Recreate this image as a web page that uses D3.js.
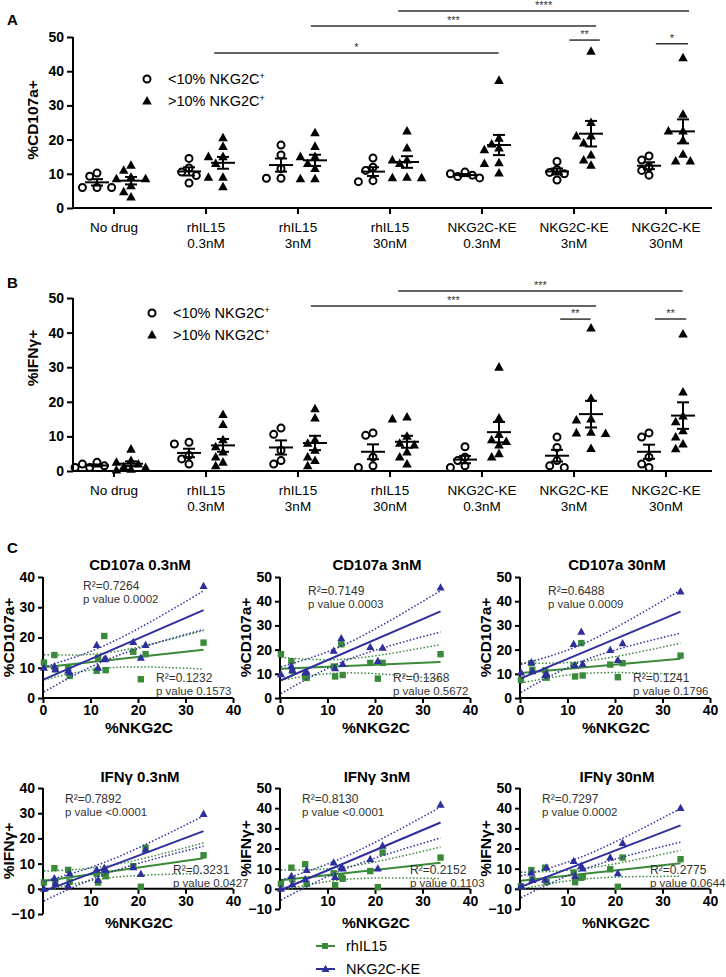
<!DOCTYPE html>
<html><head><meta charset="utf-8">
<script src="https://cdn.jsdelivr.net/npm/d3@7/dist/d3.min.js"></script>
<style>body{margin:0;background:#fff}svg{font-family:"Liberation Sans",Arial,sans-serif}</style>
</head><body>
<svg id="c" width="726" height="977"></svg>
<script>
// ---------- Data: panels A & B ----------
const catLine1 = ["No drug","rhIL15","rhIL15","rhIL15","NKG2C-KE","NKG2C-KE","NKG2C-KE"];
const catLine2 = ["","0.3nM","3nM","30nM","0.3nM","3nM","30nM"];
const yTicksAB = [0,10,20,30,40,50];
const cd107aLow = [
 [10.2,9.3,6.0,6.0,6.0],[14.5,11.7,10.5,9.5,7.3],[18.4,15.5,11.5,8.7,8.7],
 [14.6,11.9,11,8,7.7],[10.5,10,9.6,9.2,8.8],[13.6,11.2,10.4,10,8.2],[15.2,14,12,11,9.6]];
const cd107aHigh = [
 [12.5,11,9,8.5,8.5,6.5,4.7,3.2],[20.5,18,15,15,13,9,9,6.2],[22,18,15,15,13,11.5,8.5,8.5],
 [22.5,17.5,14,14,13,9,8.8,8.8],[37.3,20.4,18.7,17.5,17,13.2,13,10.2],
 [45.8,25,21,21,19,15.5,14,12.5],[43.9,27.4,22.5,22.5,19.8,15.7,13.7,13.7]];
const ifngLow = [
 [2.5,2,1.5,1,1],[8.3,7.8,4.5,3.5,2],[12.4,10.6,6,3,2],[11,10.3,4,1.5,1],
 [7,4,3,1.5,1],[9.8,6.8,3,1.5,1],[11,9.8,4,2,1]];
const ifngHigh = [
 [6.3,3,2.5,2,1.2,1,0.5,0.3],[16.3,13.4,9,7,5.5,4,2.5,1.5],[18,15.3,9,8,6,4,3,1.5],
 [15.6,15,10,8,7.5,5.5,4,2],[30,15.3,10.5,9,8.5,7.5,5,4],
 [41.3,21,15,14.7,11.2,11,10.8,6.5],[39.6,22.8,15.9,14.2,11.6,9.8,7.8,6.4]];
// significance bars: category-index span and height in data units
const sigA = [
 {from:3.09,to:6.25,level:57.6,label:"****"},{from:2.14,to:5.24,level:53.2,label:"***"},
 {from:1.09,to:4.18,level:45.3,label:"*"},{from:4.95,to:5.28,level:49.1,label:"**"},
 {from:5.89,to:6.24,level:48.0,label:"*"}];
const sigB = [
 {from:3.09,to:6.18,level:52.0,label:"***"},{from:2.14,to:5.24,level:47.7,label:"***"},
 {from:4.85,to:5.18,level:43.9,label:"**"},{from:5.88,to:6.22,level:43.9,label:"**"}];
const legendAB = ["<10% NKG2C","\u003e10% NKG2C"];

// ---------- Data: panel C ----------
const nkg2c = [0.2,2.4,2.6,5.3,5.6,11.3,11.6,12.9,13.2,19,20.6,21.6,33.8];
const cd107a03_rh = [11.7,14.2,9.5,10,7.3,9,13.3,20.5,9.2,15.3,6.2,14.5,18.3];
const cd107a03_ke = [10,10.5,9.5,9,8.5,17.5,10,12.8,13,18.5,13.3,17.5,37];
const cd107a3_rh  = [18.1,15.2,11.2,8.8,8.3,13,8.9,22.2,9.5,14.5,8,14.5,18.1];
const cd107a3_ke  = [9.8,13.2,11.5,10.5,10.8,19.5,12.3,24.7,14,21,15.3,20.7,45.6];
const cd107a30_rh = [7.5,14.4,11.6,11.4,8.4,13.4,8.9,22.7,9.3,13.8,8.6,14.4,17.5];
const cd107a30_ke = [10.5,14.7,11,9.5,10,22.3,13.5,27.3,14,19.8,15.7,22.6,44];
const ifng03_rh = [2.5,8.2,2.5,7.5,2.8,6,2.5,6,5,9,0.8,16.3,13.3];
const ifng03_ke = [0,4.2,2,1.2,6,7.5,3.5,8.2,7.5,8.5,5.8,15.5,29.7];
const ifng3_rh  = [2.5,10.5,4.7,12.2,2.5,7.7,1.8,6,5,8.8,0.8,18,15.5];
const ifng3_ke  = [0,6.3,2.2,4.7,9.3,13,5.8,10.5,10,14.7,10,21.3,41.7];
const ifng30_rh = [1.3,9.3,4.7,10.5,3.3,8,3.3,5.5,6,9.7,1,15.5,14.7];
const ifng30_ke = [1.3,8,4.3,4.5,10.5,13.8,6.3,11.3,10,15.5,7.7,22.7,40];
const subTitles = ["CD107a 0.3nM","CD107a 3nM","CD107a 30nM","IFN\u03b3 0.3nM","IFN\u03b3 3nM","IFN\u03b3 30nM"];
const subYTitles = ["%CD107a+","%CD107a+","%CD107a+","%IFN\u03b3+","%IFN\u03b3+","%IFN\u03b3+"];
const keStats = [["R\u00b2=0.7264","p value 0.0002"],["R\u00b2=0.7149","p value 0.0003"],["R\u00b2=0.6488","p value 0.0009"],
 ["R\u00b2=0.7892","p value <0.0001"],["R\u00b2=0.8130","p value <0.0001"],["R\u00b2=0.7297","p value 0.0002"]];
const rhStats = [["R\u00b2=0.1232","p value 0.1573"],["R\u00b2=0.1368","p value 0.5672"],["R\u00b2=0.1241","p value 0.1796"],
 ["R\u00b2=0.3231","p value 0.0427"],["R\u00b2=0.2152","p value 0.1103"],["R\u00b2=0.2775","p value 0.0644"]];
const subYMin = [0,0,0,-10,-10,-10];
const subYMax = [40,50,50,40,50,50];
const seriesNames = ["rhIL15","NKG2C-KE"];

const GREEN = "#3a8a3a", BLUE = "#2e2e9c";
const svg = d3.select("#c");

// ---------- helpers ----------
function triPath(s){ return `M0,${-s*0.62}L${s*0.58},${s*0.42}L${-s*0.58},${s*0.42}Z`; }
function mean(a){ return d3.mean(a); }
function sem(a){ return d3.deviation(a)/Math.sqrt(a.length); }
function swarm(values, cx, y, d){
  const placed=[]; const out=new Array(values.length);
  const order=values.map((v,i)=>({v,i})).sort((a,b)=>b.v-a.v);
  const cands=[0,-d,d,-2*d,2*d,-3*d,3*d];
  for(const p of order){
    const py=y(p.v);
    for(const c of cands){
      const px=cx+c;
      if(placed.every(q=>Math.hypot(q[0]-px,q[1]-py)>=7.6)){ placed.push([px,py]); out[p.i]=[px,py]; break; }
    }
    if(!out[p.i]){ out[p.i]=[cx,py]; placed.push([cx,py]); }
  }
  return out;
}

// ---------- panels A & B ----------
function dotPanel(cfg){
  const g=svg.append("g");
  const x=d3.scalePoint().domain(d3.range(7)).range([114,666]);
  const xf=i=>114+i*92;
  const y=d3.scaleLinear().domain([0,50]).range([cfg.y0,cfg.y50]);
  const ya=g.append("g").attr("transform","translate(73,0)").call(d3.axisLeft(y).tickValues(yTicksAB).tickSize(6).tickPadding(3));
  ya.select(".domain").attr("stroke-width",2).attr("d",`M0,${cfg.y0}V${cfg.y50}`);
  ya.selectAll(".tick line").attr("stroke-width",2);
  ya.selectAll("text").attr("font-size",14).attr("font-weight","bold").attr("fill","#000").attr("font-family","Liberation Sans, Arial");
  g.append("line").attr("x1",72).attr("x2",712).attr("y1",cfg.y0).attr("y2",cfg.y0).attr("stroke","#000").attr("stroke-width",2);
  d3.range(7).forEach(i=>{
    g.append("line").attr("x1",x(i)).attr("x2",x(i)).attr("y1",cfg.y0).attr("y2",cfg.y0+6).attr("stroke","#000").attr("stroke-width",2);
    g.append("text").attr("x",x(i)).attr("y",cfg.y0+24).attr("text-anchor","middle").attr("font-size",13.5).text(catLine1[i]);
    if(catLine2[i]) g.append("text").attr("x",x(i)).attr("y",cfg.y0+40).attr("text-anchor","middle").attr("font-size",13.5).text(catLine2[i]);
  });
  g.append("text").attr("transform",`translate(${cfg.ytx},${cfg.yty}) rotate(-90)`).attr("text-anchor","middle")
   .attr("font-size",15.5).attr("font-weight","bold").text(cfg.ytitle);
  g.append("text").attr("x",7).attr("y",cfg.letterY).attr("font-size",15).attr("font-weight","bold").text(cfg.letter);
  [cfg.low,cfg.high].forEach((data,si)=>{
    data.forEach((vals,i)=>{
      const cx=x(i)+(si===0?-17:17);
      const pts=swarm(vals,cx,y,7.3);
      pts.forEach(p=>{
        if(si===0) g.append("circle").attr("cx",p[0]).attr("cy",p[1]).attr("r",3.5).attr("fill","none").attr("stroke","#000").attr("stroke-width",2);
        else g.append("path").attr("d",triPath(8.2)).attr("transform",`translate(${p[0]},${p[1]})`).attr("fill","#000");
      });
      const m=mean(vals), s=sem(vals);
      g.append("line").attr("x1",cx-12).attr("x2",cx+12).attr("y1",y(m)).attr("y2",y(m)).attr("stroke","#000").attr("stroke-width",2);
      g.append("line").attr("x1",cx).attr("x2",cx).attr("y1",y(m-s)).attr("y2",y(m+s)).attr("stroke","#000").attr("stroke-width",2);
      [m-s,m+s].forEach(v=>g.append("line").attr("x1",cx-6).attr("x2",cx+6).attr("y1",y(v)).attr("y2",y(v)).attr("stroke","#000").attr("stroke-width",2));
    });
  });
  cfg.sig.forEach(s=>{
    g.append("line").attr("x1",xf(s.from)).attr("x2",xf(s.to)).attr("y1",y(s.level)).attr("y2",y(s.level)).attr("stroke","#333").attr("stroke-width",1.5);
    g.append("text").attr("x",(xf(s.from)+xf(s.to))/2).attr("y",y(s.level)-2).attr("text-anchor","middle").attr("font-size",11).attr("fill","#333").text(s.label);
  });
  const lx=cfg.legX, ly=cfg.legY;
  g.append("circle").attr("cx",lx).attr("cy",ly).attr("r",3.5).attr("fill","none").attr("stroke","#000").attr("stroke-width",2);
  g.append("path").attr("d",triPath(8.2)).attr("transform",`translate(${lx},${ly+22})`).attr("fill","#000");
  legendAB.forEach((t,k)=>{
    const tx=g.append("text").attr("x",lx+21).attr("y",ly+5+22*k).attr("font-size",14.5).text(t);
    tx.append("tspan").attr("dy",-5).attr("font-size",9).text("+");
  });
}
dotPanel({y0:208,y50:37,low:cd107aLow,high:cd107aHigh,sig:sigA,ytitle:"%CD107a+",ytx:38,yty:120,letter:"A",letterY:25,legX:147,legY:79});
dotPanel({y0:471,y50:298,low:ifngLow,high:ifngHigh,sig:sigB,ytitle:"%IFN\u03b3+",ytx:38,yty:358,letter:"B",letterY:288,legX:152,legY:313});
svg.append("text").attr("x",7).attr("y",553).attr("font-size",15).attr("font-weight","bold").text("C");

// ---------- panel C ----------
const cData = [[cd107a03_rh,cd107a03_ke],[cd107a3_rh,cd107a3_ke],[cd107a30_rh,cd107a30_ke],
               [ifng03_rh,ifng03_ke],[ifng3_rh,ifng3_ke],[ifng30_rh,ifng30_ke]];
const colLeft=[43,280,520];
function linreg(xs,ys){
  const n=xs.length, mx=d3.mean(xs), my=d3.mean(ys);
  let sxx=0,sxy=0; xs.forEach((v,i)=>{sxx+=(v-mx)**2; sxy+=(v-mx)*(ys[i]-my);});
  const b=sxy/sxx, a=my-b*mx;
  let sse=0; xs.forEach((v,i)=>{sse+=(ys[i]-a-b*v)**2;});
  const s=Math.sqrt(sse/(n-2));
  return {a,b,s,n,mx,sxx};
}
cData.forEach((pair,k)=>{
  const row=Math.floor(k/3), col=k%3;
  const left=colLeft[col];
  const ymin=subYMin[k], ymax=subYMax[k];
  let yTopPx, yBotPx;
  if(row===0){ yTopPx=577; yBotPx=698; }
  else { yTopPx=788; yBotPx = ymax===40?914:909; }
  const x=d3.scaleLinear().domain([0,40]).range([left,left+190]);
  const y=d3.scaleLinear().domain([ymin,ymax]).range([yBotPx,yTopPx]);
  const g=svg.append("g");
  const ya=g.append("g").attr("transform",`translate(${left},0)`).call(d3.axisLeft(y).ticks(ymax>40||ymin<0? (ymax-ymin)/10 : 4).tickSize(5).tickPadding(3));
  ya.select(".domain").attr("stroke-width",2).attr("d",`M0,${y(ymin)}V${y(ymax)}`);
  ya.selectAll(".tick line").attr("stroke-width",2);
  ya.selectAll("text").attr("font-size",14).attr("font-weight","bold").attr("fill","#000").attr("font-family","Liberation Sans, Arial");
  const xAxisY=y(0);
  const xa=g.append("g").attr("transform",`translate(0,${xAxisY})`).call(d3.axisBottom(x).tickValues(row===0?[0,10,20,30,40]:[10,20,30,40]).tickSize(5).tickPadding(2));
  xa.select(".domain").attr("stroke-width",2).attr("d",`M${left},0H${left+190}`);
  xa.selectAll(".tick line").attr("stroke-width",2);
  xa.selectAll("text").attr("font-size",14).attr("font-weight","bold").attr("fill","#000").attr("font-family","Liberation Sans, Arial");
  g.append("text").attr("x",left+96).attr("y",row===0?733:928).attr("text-anchor","middle").attr("font-size",15.5).attr("font-weight","bold").text("%NKG2C");
  g.append("text").attr("x",left+97).attr("y",row===0?570:782).attr("text-anchor","middle").attr("font-size",15).attr("font-weight","bold").text(subTitles[k]);
  g.append("text").attr("transform",`translate(${left-29},${(yTopPx+yBotPx)/2}) rotate(-90)`).attr("text-anchor","middle")
   .attr("font-size",15.5).attr("font-weight","bold").text(subYTitles[k]);
  pair.forEach((ys,si)=>{
    const col=si===0?GREEN:BLUE;
    const r=linreg(nkg2c,ys);
    const x0=d3.min(nkg2c), x1=d3.max(nkg2c);
    const xsS=d3.range(0,41).map(i=>x0+(x1-x0)*i/40);
    const t=2.201;
    const band=sgn=>xsS.map(v=>[x(v),y(r.a+r.b*v+sgn*t*r.s*Math.sqrt(1/r.n+(v-r.mx)**2/r.sxx))]);
    [-1,1].forEach(sg=>g.append("path").attr("d",d3.line()(band(sg))).attr("fill","none").attr("stroke",col).attr("stroke-width",1.5).attr("stroke-dasharray","1.5,2"));
    g.append("line").attr("x1",x(x0)).attr("x2",x(x1)).attr("y1",y(r.a+r.b*x0)).attr("y2",y(r.a+r.b*x1)).attr("stroke",col).attr("stroke-width",2);
    ys.forEach((v,i)=>{
      if(si===0) g.append("rect").attr("x",x(nkg2c[i])-3.2).attr("y",y(v)-3.2).attr("width",6.4).attr("height",6.4).attr("fill",col);
      else g.append("path").attr("d",triPath(7)).attr("transform",`translate(${x(nkg2c[i])},${y(v)})`).attr("fill",col);
    });
  });
  const kx=left+(row===0?(col===0?40:28):22), ky=row===0?(col===0?590:595):803;
  g.append("text").attr("x",kx).attr("y",ky).attr("font-size",12).attr("fill","#333").text(keStats[k][0]);
  g.append("text").attr("x",kx).attr("y",ky+13).attr("font-size",11.5).attr("fill","#333").text(keStats[k][1]);
  const rx=left+(row===0?113:130), ry=row===0?682:874;
  g.append("text").attr("x",rx).attr("y",ry).attr("font-size",12).attr("fill","#333").text(rhStats[k][0]);
  g.append("text").attr("x",rx).attr("y",ry+12.5).attr("font-size",11.5).attr("fill","#333").text(rhStats[k][1]);
});
seriesNames.forEach((nm,i)=>{
  const col=i===0?GREEN:BLUE, ly=946+23*i;
  svg.append("line").attr("x1",316).attr("x2",335).attr("y1",ly).attr("y2",ly).attr("stroke",col).attr("stroke-width",2);
  if(i===0) svg.append("rect").attr("x",322).attr("y",ly-3).attr("width",6).attr("height",6).attr("fill",col);
  else svg.append("path").attr("d",triPath(7)).attr("transform",`translate(325.5,${ly})`).attr("fill",col);
  svg.append("text").attr("x",346).attr("y",ly+5).attr("font-size",14.5).text(nm);
});
</script>
</body></html>
